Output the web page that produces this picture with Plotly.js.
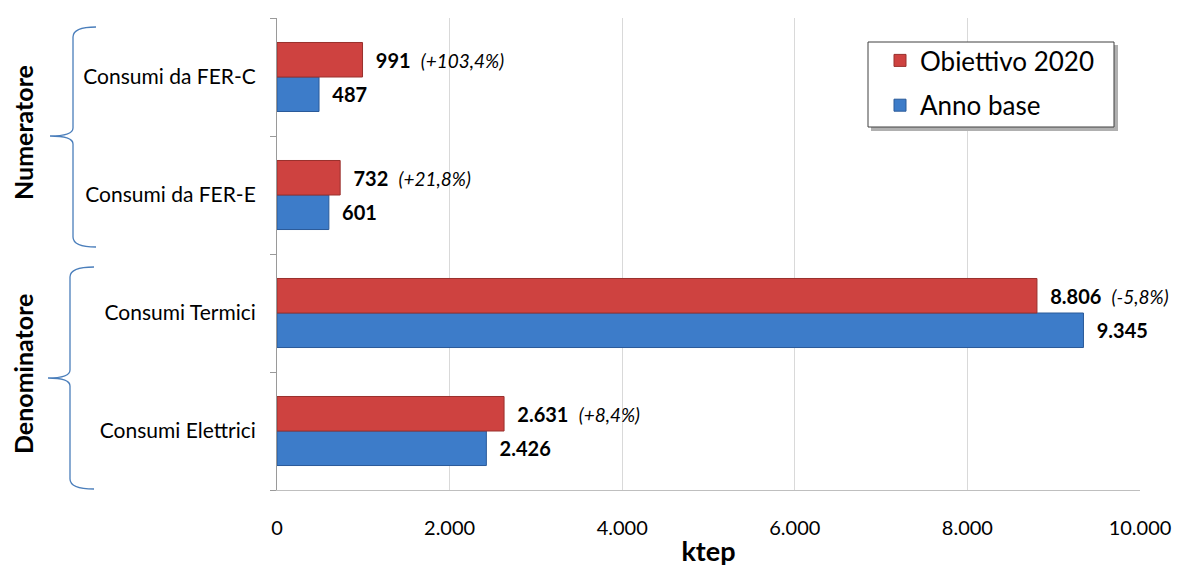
<!DOCTYPE html>
<html>
<head>
<meta charset="utf-8">
<script src="https://cdn.plot.ly/plotly-3.0.1.min.js"></script>
<style>html,body{margin:0;padding:0;background:#fff;}#chart{width:1177px;height:567px;}</style>
</head>
<body>
<div id="chart"></div>
<script>
// Data (bottom to top category order)
const categories = ["Consumi Elettrici", "Consumi Termici", "Consumi da FER-E", "Consumi da FER-C"];
const annoBase = [2426, 9345, 601, 487];
const obiettivo2020 = [2631, 8806, 732, 991];
const variazione = ["(+8,4%)", "(-5,8%)", "(+21,8%)", "(+103,4%)"];
const xTickVals = [0, 2000, 4000, 6000, 8000, 10000];
const groupLabels = ["Numeratore", "Denominatore"];

// layout geometry (pixels)
const W = 1177, H = 567;
const mL = 277, mR = 37, mT = 18, mB = 77;
const pw = W - mL - mR, ph = H - mT - mB;
const px = x => (x - mL) / pw;
const py = y => (H - mB - y) / ph;

function brace(xr, xv, xt, ytop, ytip, ybot) {
  const P = (x, y) => px(x).toFixed(5) + "," + py(y).toFixed(5);
  return "M" + P(xr, ytop) +
    " Q" + P(xv, ytop) + " " + P(xv, ytop + 10) +
    " L" + P(xv, ytip - 8) +
    " Q" + P(xv, ytip) + " " + P(xt, ytip) +
    " Q" + P(xv, ytip) + " " + P(xv, ytip + 8) +
    " L" + P(xv, ybot - 10) +
    " Q" + P(xv, ybot) + " " + P(xr, ybot);
}

const FONT = "Lato, 'Open Sans', sans-serif";
const sp = "\u00A0\u00A0";
const traceBase = {
  type: "bar", orientation: "h", name: "Anno base",
  y: categories, x: annoBase, legendgroup: "b", legendrank: 2,
  marker: {color: "#3D7CC9", line: {color: "#2A5A99", width: 1}},
  texttemplate: sp + "<b>%{x:,.0f}</b>",
  textposition: "outside", cliponaxis: false, constraintext: "none",
  textfont: {family: FONT, size: 20, color: "#000"},
  hoverinfo: "none"
};
const traceObj = {
  type: "bar", orientation: "h", name: "Obiettivo 2020",
  y: categories, x: obiettivo2020, customdata: variazione, legendgroup: "a", legendrank: 1,
  marker: {color: "#CE4240", line: {color: "#99302C", width: 1}},
  texttemplate: sp + "<b>%{x:,.0f}</b>" + sp + "<span style='font-style:italic;font-size:19px'>%{customdata}</span>",
  textposition: "outside", cliponaxis: false, constraintext: "none",
  textfont: {family: FONT, size: 20, color: "#000"},
  hoverinfo: "none"
};

const layout = {
  width: W, height: H,
  margin: {l: mL, r: mR, t: mT, b: mB, pad: 0},
  paper_bgcolor: "#fff", plot_bgcolor: "#fff",
  separators: ",.",
  font: {family: FONT, size: 20, color: "#000"},
  barmode: "group", bargap: 0.415, bargroupgap: 0,
  showlegend: true,
  legend: {
    x: px(880), y: py(37), xanchor: "left", yanchor: "top",
    traceorder: "grouped", tracegroupgap: 8,
    bgcolor: "rgba(0,0,0,0)", borderwidth: 0,
    font: {family: FONT, size: 26, color: "#000"}
  },
  xaxis: {
    range: [0, 10000], tickvals: xTickVals, tickformat: ",.0f",
    showgrid: true, gridcolor: "#d9d9d9", gridwidth: 1,
    showline: true, linecolor: "#bfbfbf", linewidth: 1,
    zeroline: false, ticks: "", ticklabelstandoff: 20,
    tickfont: {size: 20, color: "#000"},
    title: {text: "<b>ktep</b>", font: {size: 27, color: "#000"}, standoff: 10},
    fixedrange: true
  },
  yaxis: {
    type: "category", categoryorder: "array", categoryarray: categories,
    showline: true, linecolor: "#9a9a9a", linewidth: 1,
    ticks: "outside", tickson: "boundaries", ticklen: 6, tickcolor: "#9a9a9a",
    ticklabelstandoff: 16, showgrid: false, zeroline: false,
    tickfont: {size: 21, color: "#000"},
    fixedrange: true
  },
  shapes: [
    {type: "rect", xref: "paper", yref: "paper", x0: px(871), x1: px(1118), y0: py(131), y1: py(45),
     fillcolor: "#b0b0b0", line: {width: 0}, layer: "above"},
    {type: "rect", xref: "paper", yref: "paper", x0: px(868), x1: px(1114), y0: py(127), y1: py(42),
     fillcolor: "#ffffff", line: {color: "#404040", width: 1}, layer: "above"},
    {type: "path", xref: "paper", yref: "paper", path: brace(96, 73, 50, 27, 136, 247),
     line: {color: "#4a7ebb", width: 1.3}},
    {type: "path", xref: "paper", yref: "paper", path: brace(94, 70, 48, 267, 378, 489),
     line: {color: "#4a7ebb", width: 1.3}}
  ],
  annotations: [
    {xref: "paper", yref: "paper", x: px(23), y: py(133), text: "<b>" + groupLabels[0] + "</b>",
     textangle: -90, showarrow: false, font: {size: 25, color: "#000"}, xanchor: "center", yanchor: "middle"},
    {xref: "paper", yref: "paper", x: px(23), y: py(374), text: "<b>" + groupLabels[1] + "</b>",
     textangle: -90, showarrow: false, font: {size: 25, color: "#000"}, xanchor: "center", yanchor: "middle"}
  ]
};

Plotly.newPlot("chart", [traceBase, traceObj], layout, {staticPlot: true, displayModeBar: false});
</script>
</body>
</html>
